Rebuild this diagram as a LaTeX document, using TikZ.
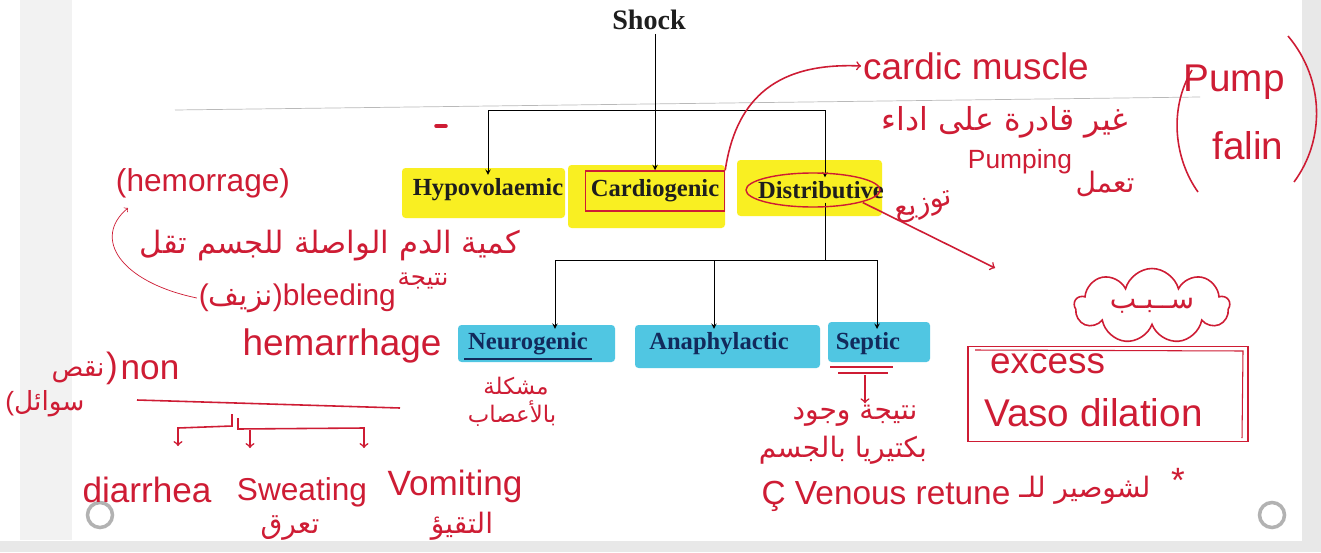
\documentclass[tikz,border=0pt]{standalone}
\usepackage{fontspec}
\setmainfont{Liberation Serif}
\newfontfamily\handfont{Liberation Sans}
\newfontfamily\arabicfont[Script=Arabic]{DejaVu Sans}
\TeXXeTstate=1
\usetikzlibrary{shapes.symbols}

\definecolor{pen}{RGB}{206,28,52}
\definecolor{hiyellow}{RGB}{249,239,34}
\definecolor{hiblue}{RGB}{80,198,226}
\definecolor{navy}{RGB}{18,42,92}
\definecolor{ink}{RGB}{30,30,30}

\tikzset{
  kind/.style={font=\fontsize{14}{16}\selectfont\bfseries, text=ink, inner sep=2pt},
  subkind/.style={kind, text=navy},
  yellowmark/.style={fill=hiyellow, rounded corners=2pt},
  bluemark/.style={fill=hiblue, rounded corners=2pt},
  hand/.style={text=pen, font=\handfont\fontsize{20}{22}\selectfont, inner sep=1pt},
  arab/.style={text=pen, font=\arabicfont\fontsize{16}{18}\selectfont, inner sep=1pt},
  penline/.style={draw=pen, line width=0.9pt},
}

\begin{document}
\begin{tikzpicture}[x=0.2mm, y=-0.2mm, >=stealth]
    \useasboundingbox (0,0) rectangle (1321,552);

    % Paper and photo edges
    \fill[white] (0,0) rectangle (1321,552);
    \fill[gray!10] (20,0) rectangle (72,540);
    \fill[gray!18] (0,541) rectangle (1321,552);
    \fill[gray!18] (1302,0) rectangle (1321,552);
    \draw[gray!55, line width=0.4pt] (175,110) -- (1200,97);
    \foreach \x in {100,1272}
        \draw[gray!60, line width=2pt] (\x,515) circle (2.5mm);

    % Highlights
    \fill[yellowmark] (402,168) rectangle (565,218);
    \fill[yellowmark] (568,165) rectangle (725,228);
    \fill[yellowmark] (737,160) rectangle (882,216);
    \fill[bluemark] (458,325) rectangle (615,362);
    \fill[bluemark] (635,325) rectangle (820,368);
    \fill[bluemark] (828,322) rectangle (930,362);

    % Printed tree
    \node[kind, font=\fontsize{16}{18}\selectfont\bfseries] (shock) at (649,20) {Shock};
    \node[kind] (hypo) at (488,190) {Hypovolaemic};
    \node[kind, draw=pen, line width=0.8pt, inner ysep=5pt, inner xsep=3pt] (cardio) at (655,191) {Cardiogenic};
    \node[kind] (distr) at (821,190) {Distributive};
    \node[subkind] (neuro) at (528,344) {Neurogenic};
    \node[subkind] (anaph) at (719,344) {Anaphylactic};
    \node[subkind] (septic) at (868,344) {Septic};

    \coordinate (top) at (655,110);
    \coordinate (mid) at (825,260);
    \draw[->] (shock.south -| top) -- (cardio.north);
    \draw (hypo.north |- top) -- (mid |- top);
    \draw[->] (hypo.north |- top) -- (hypo.north);
    \draw[->] (mid |- top) -- (mid |- distr.north);
    \draw (mid |- distr.south) -- (mid);
    \coordinate (n1) at (555,260);
    \coordinate (n2) at (714,260);
    \coordinate (n3) at (877,260);
    \draw (n1) -- (n3);
    \draw[->] (n1) -- (n1 |- neuro.north);
    \draw[->] (n2) -- (n2 |- anaph.north);
    \draw[->] (n3) -- (n3 |- septic.north);
    \draw[navy, line width=0.8pt] (neuro.south west) -- (neuro.south east);
    \draw[pen, line width=0.8pt] ([xshift=-1.6mm]distr.center) ellipse (13.4mm and 3.4mm);

    % Hypovolaemic notes
    \node[hand, font=\handfont\fontsize{18}{20}\selectfont] (hemo) at (203,183) {(hemorrage)};
    \node[arab, font=\arabicfont\fontsize{17.5}{20}\selectfont] (less) at (330,246) {\beginR كمية الدم الواصلة للجسم تقل\endR};
    \node[hand, font=\handfont\fontsize{17}{19}\selectfont, anchor=east] (bleed) at (398,298) {({\arabicfont\beginR نزيف\endR})bleeding};
    \node[arab, font=\arabicfont\fontsize{14}{16}\selectfont] (result) at (423,281) {\beginR نتيجة\endR};
    \node[hand, font=\handfont\fontsize{21}{23}\selectfont] (hemar) at (342,346) {hemarrhage};
    \coordinate (h1) at (128,208);
    \draw[pen, -to] (bleed.west) .. controls (120,282) and (92,238) .. (h1);
    \draw[pen, line cap=round, line width=2pt] (436,126) -- (446,126);

    % Fluid loss
    \node[hand] (non) at (150,370) {non};
    \node[hand] (paren) at (112,368) {)};
    \node[arab, font=\arabicfont\fontsize{15}{17}\selectfont] (lack) at (78,372) {\beginR نقص\endR};
    \node[arab, font=\arabicfont\fontsize{15}{17}\selectfont] (fluid) at (45,404) {{\handfont (}\beginR سوائل\endR};
    \draw[penline] (137,400) -- (400,408);
    \node[hand] (diar) at (147,490) {diarrhea};
    \node[hand, font=\handfont\fontsize{18}{20}\selectfont] (sweat) at (302,492) {Sweating};
    \node[hand] (vomit) at (455,486) {Vomiting};
    \node[arab] (sweatar) at (290,528) {\beginR تعرق\endR};
    \node[arab] (vomitar) at (462,526) {\beginR التقيؤ\endR};
    \coordinate (b1) at (178,446);
    \coordinate (b2) at (250,448);
    \coordinate (b3) at (364,448);
    \draw[penline, -to] (232,414) -- (232,426) -- (178,428) -- (b1);
    \draw[penline, -to] (238,418) -- (238,429) -- (364,428) -- (b3);
    \draw[penline, -to] (250,430) -- (b2);

    % Neurogenic and septic notes
    \node[arab, font=\arabicfont\fontsize{13}{15}\selectfont] (nerve1) at (516,386) {\beginR مشكلة\endR};
    \node[arab, font=\arabicfont\fontsize{13}{15}\selectfont] (nerve2) at (512,414) {\beginR بالأعصاب\endR};
    \draw[penline] (830,367) -- (893,367);
    \draw[penline] (838,373) -- (888,373);
    \coordinate (s1) at (865,375);
    \node[arab] (germ1) at (855,416) {\beginR نتيجة وجود\endR};
    \node[arab] (germ2) at (843,450) {\beginR بكتيريا بالجسم\endR};
    \draw[penline, -to] (s1) -- (s1 |- germ1.north);

    % Cardiogenic notes
    \node[hand, font=\handfont\fontsize{21}{23}\selectfont] (muscle) at (976,66) {cardic muscle};
    \draw[penline, -to] (cardio.north east) .. controls (735,105) and (770,62) .. (muscle.west);
    \node[arab, font=\arabicfont\fontsize{18}{20}\selectfont] (unable) at (1005,122) {\beginR غير قادرة على اداء\endR};
    \node[hand, font=\handfont\fontsize{15}{17}\selectfont] (pumping) at (1020,162) {Pumping};
    \node[arab] (work) at (1105,184) {\beginR تعمل\endR};
    \node[arab, rotate=15] (spread) at (924,208) {\beginR توزيع\endR};
    \node[hand, font=\handfont\fontsize{22}{24}\selectfont] (pump) at (1234,82) {Pump};
    \node[hand, font=\handfont\fontsize{22}{24}\selectfont] (fail) at (1248,146) {falin};
    \draw[penline] (1192,70) .. controls (1168,110) and (1175,160) .. (1198,192);
    \draw[penline] (1288,36) .. controls (1325,80) and (1325,140) .. (1294,182);

    % Distributive notes
    \coordinate (d1) at (995,268);
    \draw[penline, -to] ([xshift=-5mm]distr.south east) -- (d1);
    \node[draw=pen, line width=0.9pt, cloud, cloud puffs=9, aspect=2.1,
          minimum width=31mm, minimum height=15mm, fill=white] (cause) at (1152,306) {};
    \node[arab] at (cause.center) {\beginR ســبـب\endR};
    \node[draw=pen, line width=0.9pt, minimum width=56mm, minimum height=19mm] (vaso) at (1108,394) {};
    \draw[pen, line width=0.6pt] (975,350) -- (1243,351) -- (1242,438);
    \node[hand, anchor=base west, font=\handfont\fontsize{21}{23}\selectfont] (excess) at (988,373) {excess};
    \node[hand, anchor=base west, font=\handfont\fontsize{22}{24}\selectfont] (dilat) at (982,426) {Vaso dilation};
    \node[hand, font=\handfont\fontsize{19}{21}\selectfont] (venous) at (886,496) {Ç Venous retune};
    \node[arab] (short) at (1085,490) {\beginR لشوصير للـ\endR};
    \node[hand] (star) at (1178,480) {*};

\end{tikzpicture}
\end{document}
